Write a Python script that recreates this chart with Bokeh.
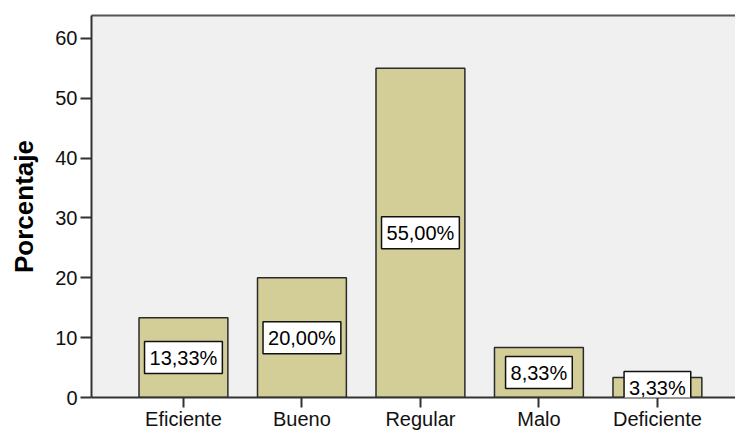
from bokeh.plotting import figure
from bokeh.models import Range1d, FixedTicker, LinearAxis, Label, ColumnDataSource
from bokeh.embed import file_html
from bokeh.resources import INLINE

categories = ["Eficiente", "Bueno", "Regular", "Malo", "Deficiente"]
percentages = [13.33, 20.00, 55.00, 8.33, 3.33]
y_ticks = [0, 10, 20, 30, 40, 50, 60]

FONT = "Liberation Sans"
positions = list(range(len(categories)))

p = figure(width=735, height=432, output_backend="svg", toolbar_location=None,
           x_range=Range1d(-0.776, 4.659), y_range=Range1d(0, 63.8),
           min_border_left=91, min_border_right=0, min_border_top=15, min_border_bottom=34)
p.background_fill_color = "#F0F0F0"
p.border_fill_color = "white"
p.outline_line_color = None
p.xgrid.visible = False
p.ygrid.visible = False

src = ColumnDataSource(dict(x=positions, top=percentages))
p.vbar(x="x", top="top", width=0.75, bottom=0, source=src,
       fill_color="#D3CE97", line_color="#2a2a2a", line_width=1.5)

for xi, v in zip(positions, percentages):
    txt = f"{v:.2f}".replace(".", ",") + "%"
    p.add_layout(Label(x=xi, y=v / 2, text=txt, text_align="center", text_baseline="middle",
                       text_font=FONT, text_font_size="20px", text_color="black",
                       background_fill_color="white", border_line_color="#111111",
                       border_line_width=1.5, padding=dict(x=5, y=5)))

ax = p.xaxis[0]
ax.ticker = FixedTicker(ticks=positions)
ax.major_label_overrides = {i: c for i, c in zip(positions, categories)}
ax.major_label_text_font = FONT
ax.major_label_text_font_size = "20px"
ax.major_label_text_color = "#111111"
ax.major_label_standoff = 0
ax.major_tick_out = 10
ax.major_tick_in = 0
ax.minor_tick_out = 0
ax.minor_tick_in = 0
ax.axis_line_color = "#333333"
ax.axis_line_width = 2
ax.major_tick_line_color = "#333333"
ax.major_tick_line_width = 2

ay = p.yaxis[0]
ay.ticker = FixedTicker(ticks=y_ticks)
ay.axis_label = "Porcentaje"
ay.axis_label_text_font = FONT
ay.axis_label_text_font_style = "bold"
ay.axis_label_text_font_size = "26px"
ay.axis_label_text_color = "black"
ay.axis_label_standoff = 13
ay.major_label_text_font = FONT
ay.major_label_text_font_size = "20px"
ay.major_label_text_color = "#111111"
ay.major_label_standoff = 3
ay.major_tick_out = 11
ay.major_tick_in = 0
ay.minor_tick_out = 0
ay.minor_tick_in = 0
ay.axis_line_color = "#333333"
ay.axis_line_width = 2
ay.major_tick_line_color = "#333333"
ay.major_tick_line_width = 2

top = LinearAxis(ticker=FixedTicker(ticks=[]), major_label_text_font_size="0px",
                 major_tick_out=0, major_tick_in=0, minor_tick_out=0, minor_tick_in=0,
                 major_label_standoff=0, axis_line_color="#555555", axis_line_width=2)
p.add_layout(top, "above")

open("out.html", "w").write(file_html(p, INLINE))
